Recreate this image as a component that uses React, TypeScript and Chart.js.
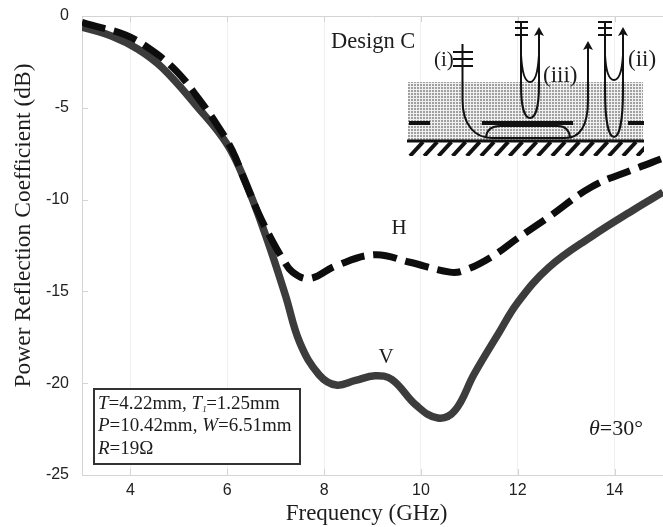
import React, { useEffect, useRef } from "react";
import { Chart, Scale, registerables } from "chart.js";

Chart.register(...registerables);

const xTicks = [4, 6, 8, 10, 12, 14];
const yTicks = [0, -5, -10, -15, -20, -25];
const freqV = [3, 3.62, 4.15, 4.65, 5.35, 6, 6.4, 6.8, 7.2, 7.5, 7.9, 8.25, 8.65, 9.05, 9.4, 9.9, 10.35, 10.7, 11.1, 11.6, 12, 12.64, 13.53, 14.43, 15];
const valuesV = [-0.6, -1.1, -1.8, -2.8, -4.85, -7.0, -9.2, -12, -15.2, -17.8, -19.55, -20.1, -19.85, -19.6, -19.8, -21.2, -21.9, -21.5, -19.5, -17.3, -15.6, -13.7, -12.0, -10.5, -9.6];
const freqH = [3, 3.2, 3.9, 4.43, 4.95, 5.38, 5.77, 6.1, 6.35, 6.62, 6.9, 7.14, 7.35, 7.7, 8.25, 9.05, 9.75, 10.6, 10.9, 11.47, 12, 12.64, 13.53, 14.35, 15];
const valuesH = [-0.35, -0.5, -1.04, -1.85, -3, -4.4, -5.85, -7.3, -8.9, -10.6, -12.1, -13.2, -13.95, -14.3, -13.6, -13, -13.4, -13.95, -13.85, -13.1, -12.1, -10.95, -9.3, -8.4, -7.75];

const SERIF = '"Liberation Serif"';
const SANS = '"Liberation Sans"';

type Seg = [string, boolean?];
function rich(ctx: CanvasRenderingContext2D, segs: Seg[], x: number, y: number, size: number) {
  let cx = x;
  ctx.textAlign = "left";
  ctx.textBaseline = "alphabetic";
  ctx.fillStyle = "#1c1c1c";
  for (const [t, it] of segs) {
    ctx.font = `${it ? "italic " : ""}${size}px ${SERIF}`;
    ctx.fillText(t, cx, y);
    cx += ctx.measureText(t).width;
  }
  return cx;
}

function bars(ctx: CanvasRenderingContext2D, x0: number, x1: number, ys: number[]) {
  ys.forEach((y) => {
    ctx.beginPath();
    ctx.moveTo(x0, y);
    ctx.lineTo(x1, y);
    ctx.stroke();
  });
}

function arrowHead(ctx: CanvasRenderingContext2D, x: number, y: number) {
  ctx.beginPath();
  ctx.moveTo(x, y);
  ctx.lineTo(x + 5, y + 9);
  ctx.lineTo(x, y + 7);
  ctx.lineTo(x - 5, y + 9);
  ctx.closePath();
  ctx.fill();
}

function drawSchematic(ctx: CanvasRenderingContext2D) {
  ctx.save();
  const p = document.createElement("canvas");
  p.width = 3;
  p.height = 3;
  const pc = p.getContext("2d")!;
  pc.fillStyle = "#f0f0f0";
  pc.fillRect(0, 0, 3, 3);
  pc.fillStyle = "#a0a0a0";
  pc.fillRect(0, 0, 2, 2);
  ctx.fillStyle = ctx.createPattern(p, "repeat")!;
  ctx.fillRect(408, 82, 235, 58);

  ctx.strokeStyle = "#111";
  ctx.fillStyle = "#111";
  ctx.lineCap = "butt";
  ctx.lineWidth = 4;
  bars(ctx, 409, 430, [123]);
  bars(ctx, 482, 573, [123]);
  bars(ctx, 628, 644, [123]);
  ctx.lineWidth = 3;
  bars(ctx, 407, 644, [141]);
  ctx.save();
  ctx.beginPath();
  ctx.rect(407, 142, 237, 14);
  ctx.clip();
  ctx.lineWidth = 4;
  for (let x = 410; x < 660; x += 14.2) {
    ctx.beginPath();
    ctx.moveTo(x + 13, 142);
    ctx.lineTo(x, 156);
    ctx.stroke();
  }
  ctx.restore();

  ctx.lineWidth = 2;
  // ray (i)
  ctx.beginPath();
  ctx.moveTo(462.5, 44);
  ctx.lineTo(462.5, 100);
  ctx.bezierCurveTo(462.5, 125, 475, 138, 492, 138);
  ctx.lineTo(565, 138);
  ctx.bezierCurveTo(580, 138, 588, 125, 588, 100);
  ctx.lineTo(588, 46);
  ctx.stroke();
  arrowHead(ctx, 588, 41);
  bars(ctx, 453, 473, [52, 59, 66]);
  // inner trapped path
  ctx.beginPath();
  ctx.moveTo(486, 137);
  ctx.bezierCurveTo(487, 129, 492, 126, 500, 126);
  ctx.lineTo(558, 126);
  ctx.bezierCurveTo(566, 126, 569, 130, 570, 137);
  ctx.stroke();
  // ray (iii)
  ctx.beginPath();
  ctx.moveTo(521, 21);
  ctx.lineTo(521, 85);
  ctx.bezierCurveTo(521, 108, 525, 118, 530, 118);
  ctx.bezierCurveTo(535, 118, 539, 108, 539, 85);
  ctx.lineTo(539, 32);
  ctx.stroke();
  ctx.beginPath();
  ctx.moveTo(521, 55);
  ctx.bezierCurveTo(522, 72, 525, 82, 530, 82);
  ctx.bezierCurveTo(535, 82, 538, 72, 539, 55);
  ctx.stroke();
  arrowHead(ctx, 539, 27);
  bars(ctx, 515, 528, [22, 28, 35]);
  // ray (ii)
  ctx.beginPath();
  ctx.moveTo(605, 21);
  ctx.lineTo(605, 90);
  ctx.bezierCurveTo(605, 122, 609, 137, 614, 137);
  ctx.bezierCurveTo(619, 137, 623, 122, 623, 90);
  ctx.lineTo(623, 32);
  ctx.stroke();
  ctx.beginPath();
  ctx.moveTo(605, 55);
  ctx.bezierCurveTo(606, 72, 609, 80, 614, 80);
  ctx.bezierCurveTo(619, 80, 622, 72, 623, 55);
  ctx.stroke();
  arrowHead(ctx, 623, 27);
  bars(ctx, 598, 612, [22, 28, 35]);

  rich(ctx, [["Design C"]], 331, 48, 22.5);
  rich(ctx, [["(i)"]], 434, 66, 21);
  rich(ctx, [["(iii)"]], 543, 82, 23);
  rich(ctx, [["(ii)"]], 628, 66, 23);
  ctx.restore();
}

const overlay = {
  id: "overlay",
  beforeDatasetsDraw(chart: any) {
    const { ctx, chartArea: a, scales } = chart;
    ctx.save();
    ctx.strokeStyle = "#d4d4d4";
    ctx.lineWidth = 1;
    const line = (x0: number, y0: number, x1: number, y1: number) => {
      ctx.beginPath();
      ctx.moveTo(x0, y0);
      ctx.lineTo(x1, y1);
      ctx.stroke();
    };
    line(a.left, a.top + 0.5, a.right, a.top + 0.5);
    xTicks.forEach((t) => {
      const x = Math.round(scales.x.getPixelForValue(t)) + 0.5;
      line(x, a.bottom, x, a.bottom - 6);
      line(x, a.top, x, a.top + 6);
    });
    yTicks.forEach((t) => {
      const y = Math.round(scales.y.getPixelForValue(t)) + 0.5;
      line(a.left, y, a.left + 6, y);
    });
    ctx.restore();
  },
  afterDraw(chart: any) {
    const { ctx, scales } = chart;
    drawSchematic(ctx);
    ctx.save();
    rich(ctx, [["H"]], scales.x.getPixelForValue(9.56) - 8, scales.y.getPixelForValue(-11.9), 21);
    rich(ctx, [["V"]], scales.x.getPixelForValue(9.29) - 8, scales.y.getPixelForValue(-18.9), 21);
    rich(ctx, [["θ", true], ["=30°"]], 589, 435, 22);
    ctx.fillStyle = "#fff";
    ctx.fillRect(94, 389, 206, 75);
    ctx.strokeStyle = "#333";
    ctx.lineWidth = 2;
    ctx.strokeRect(94, 389, 206, 75);
    const s = 19;
    const end = rich(ctx, [["T", true], ["=4.22mm, "], ["T", true]], 98, 409, s);
    ctx.font = `italic 9px ${SERIF}`;
    ctx.fillStyle = "#1c1c1c";
    ctx.fillText("1", end, 412);
    rich(ctx, [["=1.25mm"]], end + 4, 409, s);
    rich(ctx, [["P", true], ["=10.42mm, "], ["W", true], ["=6.51mm"]], 98, 431, s);
    rich(ctx, [["R", true], ["=19Ω"]], 98, 454, s);
    ctx.restore();
  },
};

const shiftTitle = (axis: any, dx: number, dy: number) => {
  axis.drawTitle = function () {
    const c = this.ctx;
    c.save();
    c.translate(dx, dy);
    (Scale.prototype as any).drawTitle.call(this);
    c.restore();
  };
};

export default function App() {
  const ref = useRef<HTMLCanvasElement>(null);
  useEffect(() => {
    const chart = new Chart(ref.current!, {
      type: "line",
      data: {
        datasets: [
          {
            label: "H",
            data: freqH.map((x, i) => ({ x, y: valuesH[i] })),
            borderColor: "#0d0d0d",
            borderWidth: 7,
            borderDash: [24, 9],
            pointRadius: 0,
            tension: 0.4,
            order: 0,
          },
          {
            label: "V",
            data: freqV.map((x, i) => ({ x, y: valuesV[i] })),
            borderColor: "#3c3c3c",
            borderWidth: 7.5,
            pointRadius: 0,
            tension: 0.4,
            order: 1,
          },
        ],
      },
      options: {
        animation: false,
        responsive: false,
        layout: { padding: { top: 16, right: 0, left: 0, bottom: 0 } },
        plugins: { legend: { display: false }, tooltip: { enabled: false } },
        scales: {
          x: {
            type: "linear",
            min: 3,
            max: 15,
            afterBuildTicks: (axis: any) => {
              axis.ticks = xTicks.map((value) => ({ value }));
            },
            afterFit: (axis: any) => {
              axis.height = 52;
              shiftTitle(axis, -6, 1);
            },
            border: { color: "#d4d4d4" },
            grid: { color: "#f0f0f0", drawTicks: false },
            ticks: { font: { family: SANS, size: 16 }, color: "#222", padding: 6, maxRotation: 0 },
            title: {
              display: true,
              text: "Frequency (GHz)",
              font: { family: SERIF, size: 23 },
              color: "#1c1c1c",
              padding: { top: 0, bottom: 0 },
            },
          },
          y: {
            type: "linear",
            min: -25,
            max: 0,
            afterBuildTicks: (axis: any) => {
              axis.ticks = yTicks.map((value) => ({ value }));
            },
            afterFit: (axis: any) => {
              axis.width = 82;
              shiftTitle(axis, 10, -20);
            },
            border: { color: "#d4d4d4" },
            grid: { display: false },
            ticks: { font: { family: SANS, size: 16 }, color: "#222", padding: 5 },
            title: {
              display: true,
              text: "Power Reflection Coefficient (dB)",
              font: { family: SERIF, size: 23.5 },
              color: "#1c1c1c",
              padding: { top: 0, bottom: 0 },
            },
          },
        },
      },
      plugins: [overlay],
    } as any);
    return () => chart.destroy();
  }, []);
  return (
    <canvas
      ref={ref}
      width={663}
      height={527}
      style={{ position: "absolute", left: 0, top: 0, display: "block" }}
    />
  );
}
